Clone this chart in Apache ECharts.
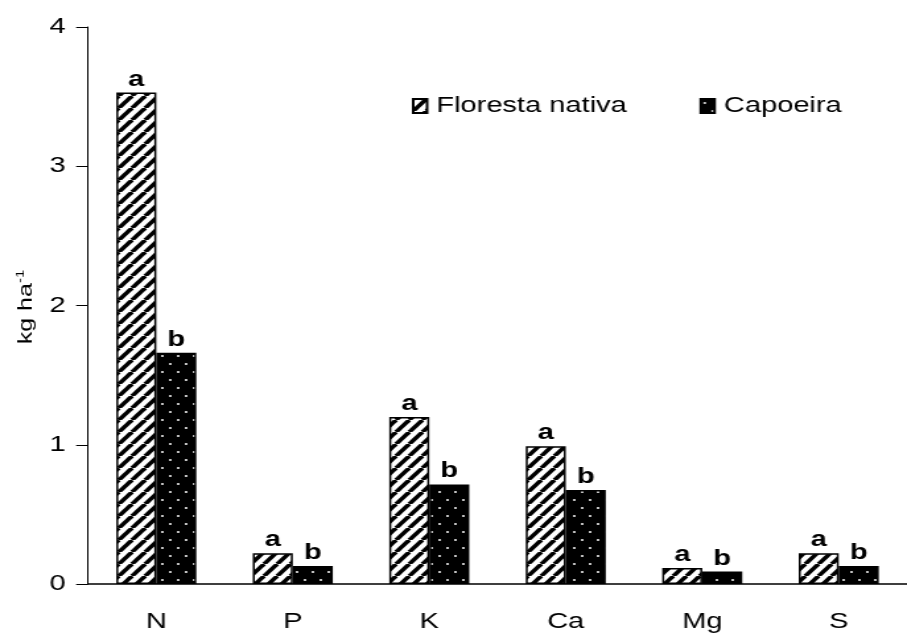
<!DOCTYPE html>
<html>
<head>
<meta charset="utf-8">
<script src="https://cdn.jsdelivr.net/npm/echarts@6/dist/echarts.min.js"></script>
<style>
  html, body { margin: 0; padding: 0; background: #fff; overflow: hidden; }
  /* the chart is drawn narrow and widened horizontally, giving the wide lettering */
  #chart { width: 687px; height: 633px; transform: scaleX(1.3202); transform-origin: 0 0; }
</style>
</head>
<body>
<div id="chart"></div>
<script>
// nutrient content (kg ha-1)
const categories = ['N', 'P', 'K', 'Ca', 'Mg', 'S'];
const florestaNativa = [3.53, 0.22, 1.20, 0.99, 0.115, 0.22];
const capoeira = [1.66, 0.13, 0.715, 0.675, 0.09, 0.13];
const florestaLetters = ['a', 'a', 'a', 'a', 'a', 'a'];
const capoeiraLetters = ['b', 'b', 'b', 'b', 'b', 'b'];
const yTicks = [0, 1, 2, 3, 4];

const FONT = "'Liberation Sans', Arial, sans-serif";

// diagonal hatch fill
function hatchPattern() {
  const c = document.createElement('canvas');
  c.width = 10; c.height = 12;
  const g = c.getContext('2d');
  g.fillStyle = '#fff';
  g.fillRect(0, 0, 10, 12);
  g.strokeStyle = '#000';
  g.lineWidth = 3.6;
  for (let k = -1; k <= 1; k++) {
    g.beginPath();
    g.moveTo(k * 10, 12);
    g.lineTo(k * 10 + 10, 0);
    g.stroke();
  }
  return c;
}

// black fill with staggered white dots
function dotPattern() {
  const c = document.createElement('canvas');
  c.width = 12; c.height = 16;
  const g = c.getContext('2d');
  g.fillStyle = '#000';
  g.fillRect(0, 0, 12, 16);
  g.fillStyle = '#fff';
  [[3, 4], [9, 12]].forEach(([x, y]) => {
    g.beginPath();
    g.arc(x, y, 1.0, 0, Math.PI * 2);
    g.fill();
  });
  return c;
}

const chart = echarts.init(document.getElementById('chart'));

const labelStyle = {
  show: true,
  position: 'top',
  distance: 2,
  fontFamily: FONT,
  fontSize: 22,
  fontWeight: 'bold',
  color: '#000'
};

chart.setOption({
  animation: false,
  backgroundColor: '#fff',
  textStyle: { fontFamily: FONT },
  grid: { left: 66.7, top: 27, width: 632, height: 559 },
  legend: {
    left: 307,
    top: 90,
    icon: 'rect',
    itemWidth: 10.5,
    itemHeight: 14,
    itemGap: 55,
    textStyle: { fontFamily: FONT, fontSize: 22, color: '#000', padding: [0, 0, 0, 2] },
    data: ['Floresta nativa', 'Capoeira']
  },
  xAxis: {
    type: 'category',
    data: categories,
    axisLine: { lineStyle: { color: '#000', width: 1.5 } },
    axisTick: { length: 7, lineStyle: { color: '#000', width: 1 } },
    axisLabel: { fontFamily: FONT, fontSize: 22, color: '#000', margin: 27 }
  },
  yAxis: {
    type: 'value',
    min: yTicks[0],
    max: yTicks[yTicks.length - 1],
    interval: 1,
    axisLine: { show: true, lineStyle: { color: '#000', width: 1 } },
    axisTick: { show: true, length: 9, lineStyle: { color: '#000' } },
    splitLine: { show: false },
    axisLabel: { fontFamily: FONT, fontSize: 22, color: '#000', margin: 17 }
  },
  graphic: [{
    type: 'text',
    x: 20,
    y: 307,
    rotation: Math.PI / 2,
    scaleX: 1.25,
    scaleY: 1 / 1.3202,
    style: {
      text: '{a|kg ha}{b|-1}',
      align: 'center',
      verticalAlign: 'middle',
      fill: '#000',
      rich: {
        a: { fontFamily: FONT, fontSize: 20, lineHeight: 24, fill: '#000' },
        b: { fontFamily: FONT, fontSize: 12, verticalAlign: 'top', fill: '#000' }
      }
    }
  }],
  series: [
    {
      name: 'Floresta nativa',
      type: 'bar',
      barWidth: 30.3,
      barGap: '0%',
      data: florestaNativa,
      itemStyle: { color: { image: hatchPattern(), repeat: 'repeat' }, borderColor: '#000', borderWidth: 1.5 },
      label: Object.assign({}, labelStyle, { formatter: p => florestaLetters[p.dataIndex] })
    },
    {
      name: 'Capoeira',
      type: 'bar',
      barWidth: 30.3,
      barGap: '0%',
      data: capoeira,
      itemStyle: { color: { image: dotPattern(), repeat: 'repeat' }, borderColor: '#000', borderWidth: 1.5 },
      label: Object.assign({}, labelStyle, { formatter: p => capoeiraLetters[p.dataIndex] })
    }
  ]
});
</script>
</body>
</html>
